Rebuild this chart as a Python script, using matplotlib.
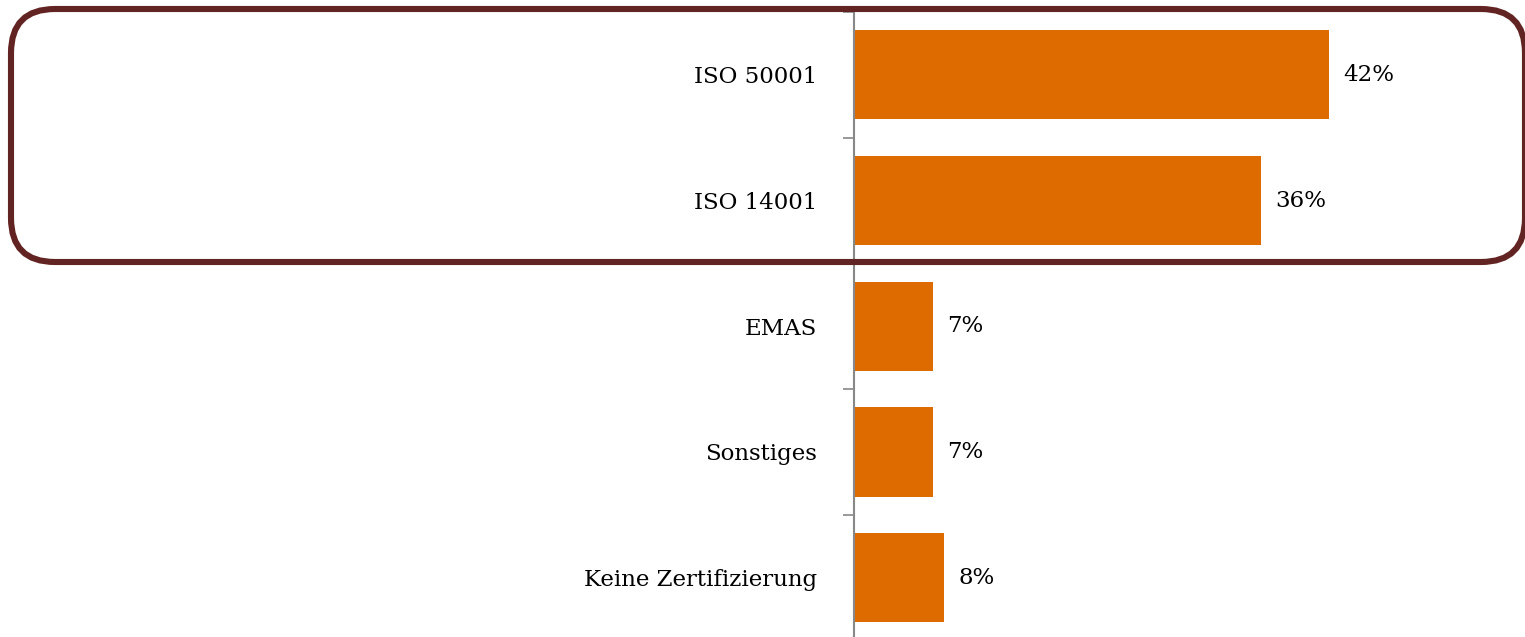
# Zertifizierungen - horizontal bar chart with highlight box

import matplotlib
matplotlib.use('Agg')
import matplotlib.pyplot as plt
from matplotlib.patches import FancyBboxPatch

categories=['ISO 50001','ISO 14001','EMAS','Sonstiges','Keine Zertifizierung']
values=[42,36,7,7,8]
value_labels=['42%','36%','7%','7%','8%']

bar_colour='#DD6B00'
box_colour='#622422'

plt.rcParams['font.family']=['DejaVu Serif']

W,H=1525,637
fig=plt.figure(figsize=(W/100,H/100),dpi=100,facecolor='white')

# Bar axes: value axis at x=854 px, top at y=12 px
ax=fig.add_axes([854/W,0,(W-854)/W,(H-12)/H])
pos=list(range(len(categories)))
ax.barh(pos,values,height=0.71,color=bar_colour)
ax.set_xlim(0,(W-854)/11.31)
ax.set_ylim(-0.5+(H-12)/125.7,-0.5)

for p,v,lab in zip(pos,values,value_labels):
    ax.annotate(lab,(v,p),xytext=(10,0),textcoords='offset points',
                va='center',ha='left',fontsize=16.5,color='black')

ax.set_yticks(pos)
ax.set_yticklabels(categories,fontsize=16.5)
ax.set_yticks([p-0.5 for p in pos],minor=True)
ax.tick_params(axis='y',which='major',length=0,pad=26.5)
ax.tick_params(axis='y',which='minor',length=8,width=1.2,color='#888888')
ax.set_xticks([])
for s in ['top','right','bottom']:
    ax.spines[s].set_visible(False)
ax.spines['left'].set_color('#888888')
ax.spines['left'].set_linewidth(1.5)

# Highlight box around the two ISO entries, drawn in pixel coordinates
ov=fig.add_axes([0,0,1,1],facecolor='none')
ov.set_xlim(0,W)
ov.set_ylim(H,0)
ov.set_axis_off()
box=FancyBboxPatch((11,9),1514,253,
                   boxstyle='round,pad=0,rounding_size=44',
                   fill=False,edgecolor=box_colour,linewidth=4.4,
                   clip_on=False)
ov.add_patch(box)

fig.savefig('out.png',dpi=100)
